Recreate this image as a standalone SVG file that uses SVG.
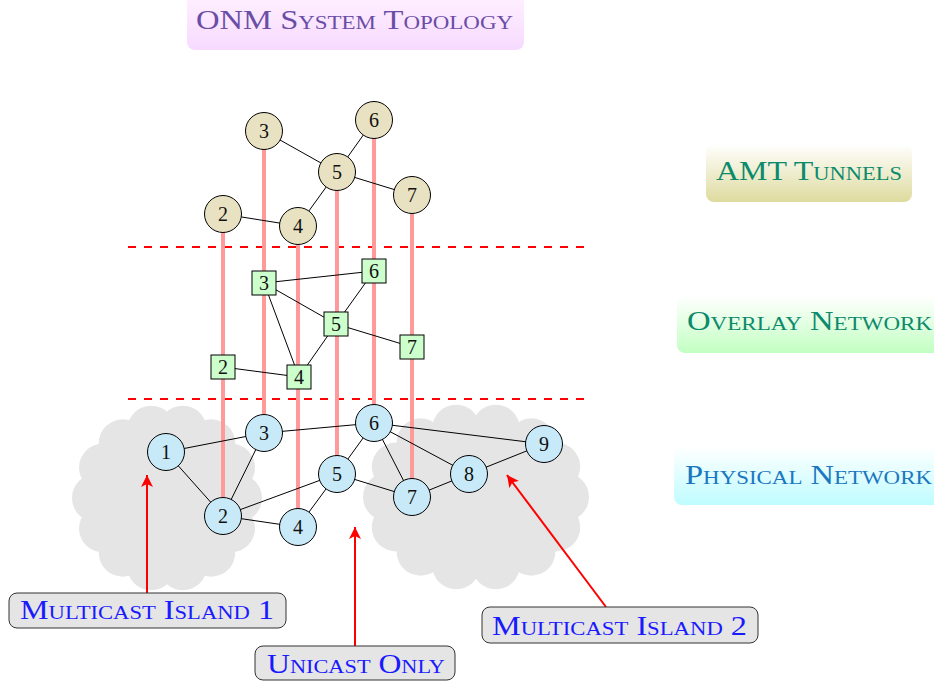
<svg xmlns="http://www.w3.org/2000/svg" width="934" height="682" viewBox="0 0 934 682">
  <defs>
    <style>
      .sc { font-family: "Liberation Serif", "DejaVu Serif", serif; font-variant: small-caps; }
      .num { font-family: "Liberation Serif", "DejaVu Serif", serif; font-size: 20px; text-anchor: middle; dominant-baseline: central; fill: #111; }
      .edge { stroke: #000; stroke-width: 1; fill: none; }
      .tunnel { stroke: #FF9A9A; stroke-width: 4; fill: none; }
      .sep { stroke: #FF0000; stroke-width: 2; stroke-dasharray: 8 8; fill: none; }
      .amt { fill: #E8E2C2; stroke: #000; stroke-width: 1; }
      .ovl { fill: #CCFFCC; stroke: #000; stroke-width: 1; }
      .phy { fill: #C8E9F8; stroke: #000; stroke-width: 1; }
      .puff { fill: #E5E5E5; }
      .pointer { stroke: #FF0000; stroke-width: 2; fill: none; marker-end: url(#tip); }
      .tag { fill: #E5E5E5; stroke: #333; stroke-width: 1; }
      .tagtext { font-size: 27px; fill: #1A1AFF; text-anchor: middle; }
      .bandtext { font-size: 27px; text-anchor: middle; }
    </style>
    <marker id="tip" markerUnits="userSpaceOnUse" markerWidth="14" markerHeight="12" refX="12" refY="6" orient="auto">
      <path d="M0,0 L12,6 L0,12 L3,6 Z" fill="#FF0000"/>
    </marker>
    <linearGradient id="gTitle" x1="0" y1="0" x2="0" y2="1">
      <stop offset="0" stop-color="#FFF2FF"/>
      <stop offset="1" stop-color="#F7DAFF"/>
    </linearGradient>
    <linearGradient id="gAmt" x1="0" y1="0" x2="0" y2="1">
      <stop offset="0" stop-color="#FFFFFF"/>
      <stop offset="1" stop-color="#DEDB9E"/>
    </linearGradient>
    <linearGradient id="gOvl" x1="0" y1="0" x2="0" y2="1">
      <stop offset="0" stop-color="#FFFFFF"/>
      <stop offset="1" stop-color="#C2FFC2"/>
    </linearGradient>
    <linearGradient id="gPhy" x1="0" y1="0" x2="0" y2="1">
      <stop offset="0" stop-color="#FFFFFF"/>
      <stop offset="1" stop-color="#BFFCFF"/>
    </linearGradient>
  </defs>

  <!-- title -->
  <g id="title">
    <rect x="187" y="-10" width="337" height="60" rx="8" fill="url(#gTitle)"/>
    <text class="sc bandtext" x="354.5" y="29" fill="#6A4DA6" textLength="317" lengthAdjust="spacingAndGlyphs">ONM System Topology</text>
  </g>

  <!-- layer labels -->
  <g id="label-amt">
    <rect x="706" y="144" width="206" height="58" rx="8" fill="url(#gAmt)"/>
    <text class="sc bandtext" x="809" y="180" fill="#0C8A6C" textLength="186" lengthAdjust="spacingAndGlyphs">AMT Tunnels</text>
  </g>
  <g id="label-overlay">
    <rect x="677" y="296" width="270" height="57" rx="8" fill="url(#gOvl)"/>
    <text class="sc bandtext" x="809.5" y="330" fill="#0C8A6C" textLength="245" lengthAdjust="spacingAndGlyphs">Overlay Network</text>
  </g>
  <g id="label-physical">
    <rect x="674" y="447" width="273" height="58" rx="8" fill="url(#gPhy)"/>
    <text class="sc bandtext" x="808.5" y="484" fill="#1A78C0" textLength="247" lengthAdjust="spacingAndGlyphs">Physical Network</text>
  </g>

  <!-- multicast islands -->
  <g id="island-1">
    <ellipse class="puff" cx="167" cy="498" rx="74" ry="73"/>
    <circle class="puff" cx="238" cy="498" r="24"/>
    <circle class="puff" cx="231" cy="528.4" r="24"/>
    <circle class="puff" cx="211.2" cy="552.7" r="24"/>
    <circle class="puff" cx="182.8" cy="566.3" r="24"/>
    <circle class="puff" cx="151.2" cy="566.3" r="24"/>
    <circle class="puff" cx="122.8" cy="552.7" r="24"/>
    <circle class="puff" cx="103" cy="528.4" r="24"/>
    <circle class="puff" cx="96" cy="498" r="24"/>
    <circle class="puff" cx="103" cy="467.6" r="24"/>
    <circle class="puff" cx="122.8" cy="443.3" r="24"/>
    <circle class="puff" cx="151.2" cy="429.7" r="24"/>
    <circle class="puff" cx="182.8" cy="429.7" r="24"/>
    <circle class="puff" cx="211.2" cy="443.3" r="24"/>
    <circle class="puff" cx="231" cy="467.6" r="24"/>
  </g>
  <g id="island-2">
    <ellipse class="puff" cx="476" cy="497" rx="92" ry="73"/>
    <circle class="puff" cx="565" cy="497" r="24"/>
    <circle class="puff" cx="556.2" cy="527.4" r="24"/>
    <circle class="puff" cx="531.4" cy="551.7" r="24"/>
    <circle class="puff" cx="495.8" cy="565.3" r="24"/>
    <circle class="puff" cx="456.2" cy="565.3" r="24"/>
    <circle class="puff" cx="420.6" cy="551.7" r="24"/>
    <circle class="puff" cx="395.8" cy="527.4" r="24"/>
    <circle class="puff" cx="387" cy="497" r="24"/>
    <circle class="puff" cx="395.8" cy="466.6" r="24"/>
    <circle class="puff" cx="420.6" cy="442.3" r="24"/>
    <circle class="puff" cx="456.2" cy="428.7" r="24"/>
    <circle class="puff" cx="495.8" cy="428.7" r="24"/>
    <circle class="puff" cx="531.4" cy="442.3" r="24"/>
    <circle class="puff" cx="556.2" cy="466.6" r="24"/>
  </g>

  <!-- layer separators -->
  <g id="separators">
    <line class="sep" x1="128" y1="247" x2="585" y2="247"/>
    <line class="sep" x1="128" y1="399" x2="585" y2="399"/>
  </g>

  <!-- connectors -->
  <g id="connectors">
    <!-- tunnels between layers -->
    <line class="tunnel" x1="223" y1="516" x2="223" y2="214"/>
    <line class="tunnel" x1="264" y1="433" x2="264" y2="131"/>
    <line class="tunnel" x1="298" y1="527" x2="298" y2="226"/>
    <line class="tunnel" x1="337" y1="474" x2="337" y2="172"/>
    <line class="tunnel" x1="374" y1="423" x2="374" y2="120"/>
    <line class="tunnel" x1="412" y1="497" x2="412" y2="195"/>
    <!-- AMT layer -->
    <line class="edge" x1="264" y1="131" x2="337" y2="172"/>
    <line class="edge" x1="374" y1="120" x2="337" y2="172"/>
    <line class="edge" x1="337" y1="172" x2="412" y2="195"/>
    <line class="edge" x1="337" y1="172" x2="298" y2="226"/>
    <line class="edge" x1="223" y1="214" x2="298" y2="226"/>
    <!-- overlay layer -->
    <line class="edge" x1="264" y1="283" x2="374" y2="271"/>
    <line class="edge" x1="264" y1="283" x2="336" y2="324"/>
    <line class="edge" x1="264" y1="283" x2="299" y2="377"/>
    <line class="edge" x1="374" y1="271" x2="336" y2="324"/>
    <line class="edge" x1="336" y1="324" x2="412" y2="347"/>
    <line class="edge" x1="336" y1="324" x2="299" y2="377"/>
    <line class="edge" x1="223" y1="367" x2="299" y2="377"/>
    <!-- physical layer -->
    <line class="edge" x1="166" y1="452" x2="264" y2="433"/>
    <line class="edge" x1="166" y1="452" x2="223" y2="516"/>
    <line class="edge" x1="223" y1="516" x2="264" y2="433"/>
    <line class="edge" x1="223" y1="516" x2="337" y2="474"/>
    <line class="edge" x1="223" y1="516" x2="298" y2="527"/>
    <line class="edge" x1="298" y1="527" x2="337" y2="474"/>
    <line class="edge" x1="264" y1="433" x2="374" y2="423"/>
    <line class="edge" x1="337" y1="474" x2="374" y2="423"/>
    <line class="edge" x1="337" y1="474" x2="412" y2="497"/>
    <line class="edge" x1="374" y1="423" x2="412" y2="497"/>
    <line class="edge" x1="374" y1="423" x2="469" y2="474"/>
    <line class="edge" x1="374" y1="423" x2="544" y2="444"/>
    <line class="edge" x1="412" y1="497" x2="469" y2="474"/>
    <line class="edge" x1="469" y1="474" x2="544" y2="444"/>
    <!-- pointers to the label boxes -->
    <line class="pointer" x1="147" y1="593" x2="147" y2="475"/>
    <line class="pointer" x1="355" y1="646" x2="355" y2="527"/>
    <line class="pointer" x1="606" y1="607" x2="507" y2="475"/>
  </g>

  <!-- AMT tunnel nodes -->
  <g id="amt-3"><circle class="amt" cx="264" cy="131" r="18.5"/><text class="num" x="264" y="131">3</text></g>
  <g id="amt-6"><circle class="amt" cx="374" cy="120" r="18.5"/><text class="num" x="374" y="120">6</text></g>
  <g id="amt-5"><circle class="amt" cx="337" cy="172" r="18.5"/><text class="num" x="337" y="172">5</text></g>
  <g id="amt-7"><circle class="amt" cx="412" cy="195" r="18.5"/><text class="num" x="412" y="195">7</text></g>
  <g id="amt-2"><circle class="amt" cx="223" cy="214" r="18.5"/><text class="num" x="223" y="214">2</text></g>
  <g id="amt-4"><circle class="amt" cx="298" cy="226" r="18.5"/><text class="num" x="298" y="226">4</text></g>

  <!-- overlay nodes -->
  <g id="ovl-3"><rect class="ovl" x="252" y="271" width="24" height="24"/><text class="num" x="264" y="283">3</text></g>
  <g id="ovl-6"><rect class="ovl" x="362" y="259" width="24" height="24"/><text class="num" x="374" y="271">6</text></g>
  <g id="ovl-5"><rect class="ovl" x="324" y="312" width="24" height="24"/><text class="num" x="336" y="324">5</text></g>
  <g id="ovl-7"><rect class="ovl" x="400" y="335" width="24" height="24"/><text class="num" x="412" y="347">7</text></g>
  <g id="ovl-2"><rect class="ovl" x="211" y="355" width="24" height="24"/><text class="num" x="223" y="367">2</text></g>
  <g id="ovl-4"><rect class="ovl" x="287" y="365" width="24" height="24"/><text class="num" x="299" y="377">4</text></g>

  <!-- physical nodes -->
  <g id="phy-1"><circle class="phy" cx="166" cy="452" r="18.5"/><text class="num" x="166" y="452">1</text></g>
  <g id="phy-2"><circle class="phy" cx="223" cy="516" r="18.5"/><text class="num" x="223" y="516">2</text></g>
  <g id="phy-3"><circle class="phy" cx="264" cy="433" r="18.5"/><text class="num" x="264" y="433">3</text></g>
  <g id="phy-4"><circle class="phy" cx="298" cy="527" r="18.5"/><text class="num" x="298" y="527">4</text></g>
  <g id="phy-5"><circle class="phy" cx="337" cy="474" r="18.5"/><text class="num" x="337" y="474">5</text></g>
  <g id="phy-6"><circle class="phy" cx="374" cy="423" r="18.5"/><text class="num" x="374" y="423">6</text></g>
  <g id="phy-7"><circle class="phy" cx="412" cy="497" r="18.5"/><text class="num" x="412" y="497">7</text></g>
  <g id="phy-8"><circle class="phy" cx="469" cy="474" r="18.5"/><text class="num" x="469" y="474">8</text></g>
  <g id="phy-9"><circle class="phy" cx="544" cy="444" r="18.5"/><text class="num" x="544" y="444">9</text></g>

  <!-- annotation boxes -->
  <g id="tag-island-1">
    <rect class="tag" x="9" y="593" width="277" height="35" rx="8"/>
    <text class="sc tagtext" x="147" y="619" textLength="254" lengthAdjust="spacingAndGlyphs">Multicast Island 1</text>
  </g>
  <g id="tag-unicast">
    <rect class="tag" x="255" y="646" width="200" height="34" rx="8"/>
    <text class="sc tagtext" x="356" y="673" textLength="178" lengthAdjust="spacingAndGlyphs">Unicast Only</text>
  </g>
  <g id="tag-island-2">
    <rect class="tag" x="482" y="607" width="276" height="36" rx="8"/>
    <text class="sc tagtext" x="619.5" y="635" textLength="255" lengthAdjust="spacingAndGlyphs">Multicast Island 2</text>
  </g>
</svg>
